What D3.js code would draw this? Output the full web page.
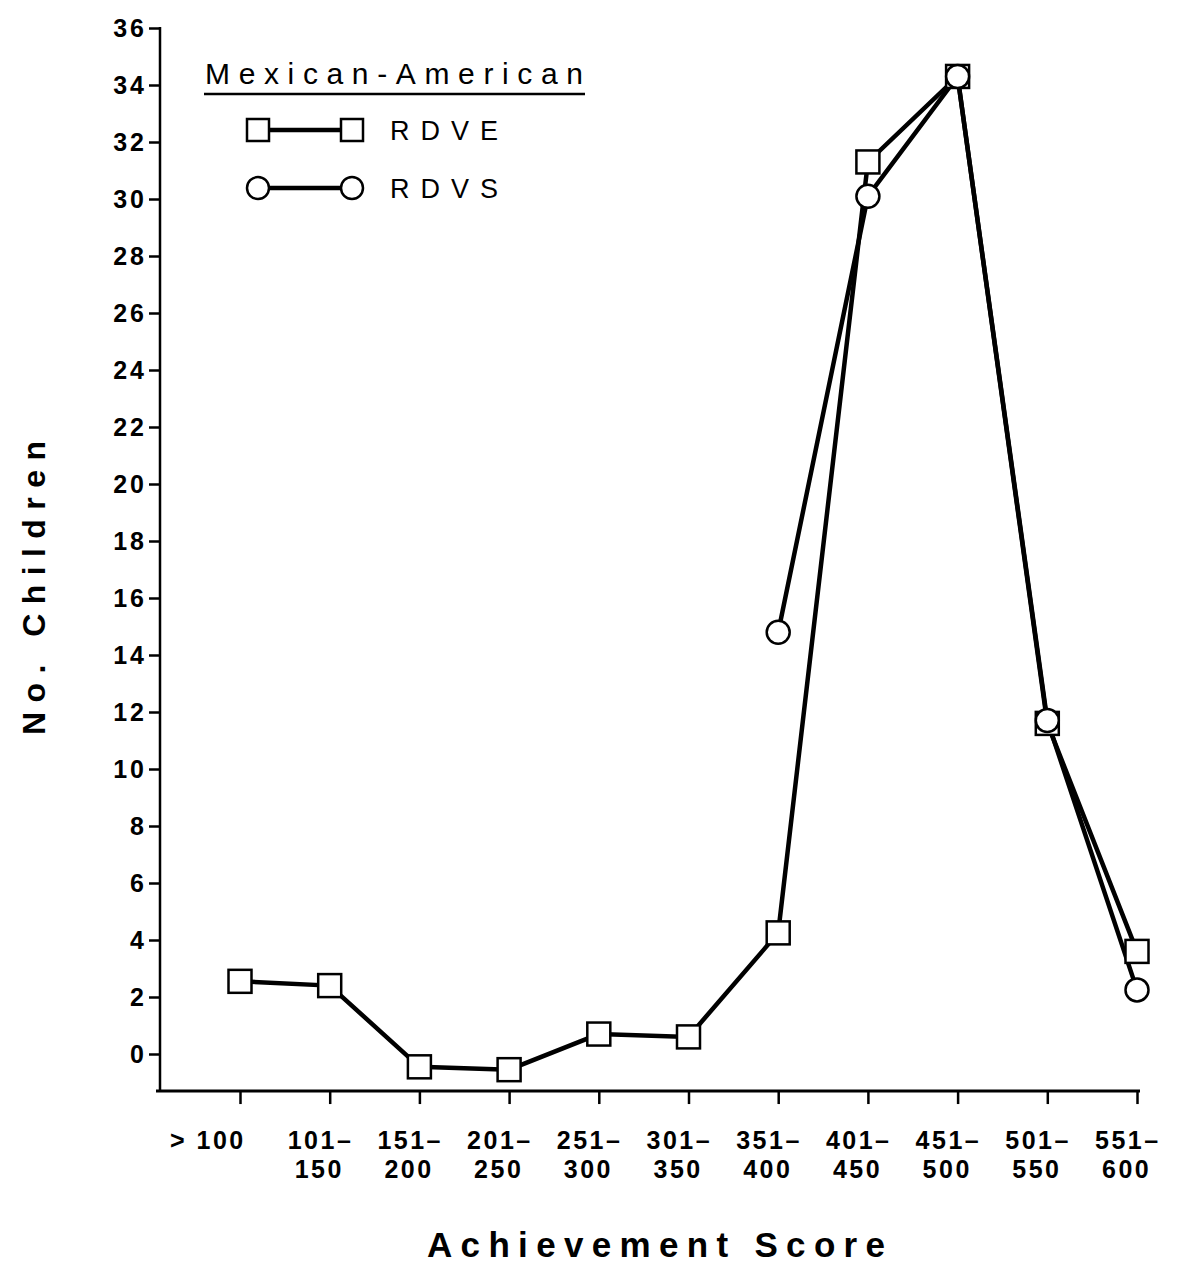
<!DOCTYPE html>
<html>
<head>
<meta charset="utf-8">
<script src="https://cdn.jsdelivr.net/npm/d3@7"></script>
<style>
  html, body { margin: 0; padding: 0; background: #fff; }
  svg { display: block; font-family: "Liberation Sans", Arial, Helvetica, sans-serif; }
</style>
</head>
<body>
<div id="chart"></div>
<script>
// categories (achievement score bands), two-line tick labels
const categories = ['>100', '101-150', '151-200', '201-250', '251-300', '301-350',
  '351-400', '401-450', '451-500', '501-550', '551-600'];
const tickLines = [['> 100'], ['101–', '150'], ['151–', '200'], ['201–', '250'], ['251–', '300'],
  ['301–', '350'], ['351–', '400'], ['401–', '450'], ['451–', '500'], ['501–', '550'], ['551–', '600']];

// number of children per band
const rdveValues = [2.55, 2.4, -0.45, -0.55, 0.7, 0.6, 4.25, 31.3, 34.3, 11.6, 3.6];
const rdvsCategories = ['351-400', '401-450', '451-500', '501-550', '551-600'];
const rdvsValues = [14.8, 30.1, 34.3, 11.7, 2.25];

const yTicks = d3.range(0, 37, 2);

const width = 1189, height = 1271;
const axisBottomValue = -1.3;

const svg = d3.select('#chart').append('svg')
  .attr('width', width)
  .attr('height', height);

const x = d3.scalePoint()
  .domain(categories)
  .range([240, 1137]);

const y = d3.scaleLinear()
  .domain([0, 36])
  .range([1054, 28]);

const axisX = 160;
const axisY = y(axisBottomValue);

// y axis
svg.append('g')
  .attr('transform', `translate(${axisX},0)`)
  .call(d3.axisLeft(y).tickValues(yTicks).tickSize(11).tickPadding(2))
  .call(g => {
    g.select('.domain').remove();
    g.selectAll('.tick line').attr('stroke', '#000').attr('stroke-width', 2.5);
    g.selectAll('.tick text')
      .attr('fill', '#000')
      .attr('font-size', '25px')
      .attr('font-weight', 'bold')
      .attr('letter-spacing', '3px')
      .attr('font-family', '"Liberation Sans", Arial, sans-serif');
  });

svg.append('line')
  .attr('x1', axisX).attr('x2', axisX)
  .attr('y1', y(36) - 1).attr('y2', axisY)
  .attr('stroke', '#000').attr('stroke-width', 2.5);

// x axis
svg.append('line')
  .attr('x1', axisX - 4).attr('x2', x(categories[categories.length - 1]) + 3)
  .attr('y1', axisY).attr('y2', axisY)
  .attr('stroke', '#000').attr('stroke-width', 3);

svg.append('g')
  .attr('transform', `translate(0,${axisY})`)
  .call(d3.axisBottom(x).tickSize(13).tickFormat(''))
  .call(g => {
    g.select('.domain').remove();
    g.selectAll('.tick line').attr('stroke', '#000').attr('stroke-width', 2.5);
  });

const xLabels = svg.append('g');
categories.forEach((c, i) => {
  const startX = i === 0 ? x(c) - 70 : x(c) - 42;
  const t = xLabels.append('text')
    .attr('x', startX)
    .attr('y', axisY + 58)
    .attr('font-size', '25px')
    .attr('font-weight', 'bold')
    .attr('letter-spacing', '2.5px')
    .attr('fill', '#000');
  tickLines[i].forEach((line, j) => {
    t.append('tspan')
      .attr('x', startX + (j === 1 ? 7 : 0))
      .attr('dy', j === 0 ? 0 : 29)
      .text(line);
  });
});

// axis titles
svg.append('text')
  .attr('transform', `translate(45,${588}) rotate(-90)`)
  .attr('text-anchor', 'middle')
  .attr('font-size', '32px')
  .attr('font-weight', 'bold')
  .attr('textLength', 294)
  .attr('lengthAdjust', 'spacing')
  .attr('fill', '#000')
  .text('No. Children');

svg.append('text')
  .attr('x', 656)
  .attr('y', 1257)
  .attr('text-anchor', 'middle')
  .attr('font-size', '35px')
  .attr('font-weight', 'bold')
  .attr('textLength', 458)
  .attr('lengthAdjust', 'spacing')
  .attr('fill', '#000')
  .text('Achievement Score');

// series lines
const line = d3.line()
  .x(d => x(d.cat))
  .y(d => y(d.value));

const rdve = categories.map((c, i) => ({ cat: c, value: rdveValues[i] }));
const rdvs = rdvsCategories.map((c, i) => ({ cat: c, value: rdvsValues[i] }));

svg.append('path')
  .datum(rdve)
  .attr('d', line)
  .attr('fill', 'none')
  .attr('stroke', '#000')
  .attr('stroke-width', 4.5);

svg.append('path')
  .datum(rdvs)
  .attr('d', line)
  .attr('fill', 'none')
  .attr('stroke', '#000')
  .attr('stroke-width', 4.5);

const sq = 23;
svg.append('g').selectAll('rect')
  .data(rdve)
  .join('rect')
  .attr('x', d => x(d.cat) - sq / 2)
  .attr('y', d => y(d.value) - sq / 2)
  .attr('width', sq)
  .attr('height', sq)
  .attr('fill', '#fff')
  .attr('stroke', '#000')
  .attr('stroke-width', 2.5);

svg.append('g').selectAll('circle')
  .data(rdvs)
  .join('circle')
  .attr('cx', d => x(d.cat))
  .attr('cy', d => y(d.value))
  .attr('r', 11.5)
  .attr('fill', '#fff')
  .attr('stroke', '#000')
  .attr('stroke-width', 2.5);

// legend
const legend = svg.append('g');
legend.append('text')
  .attr('x', 205)
  .attr('y', 84)
  .attr('font-size', '30px')
  .attr('textLength', 378)
  .attr('lengthAdjust', 'spacing')
  .attr('fill', '#000')
  .text('Mexican-American');
legend.append('line')
  .attr('x1', 204).attr('x2', 585)
  .attr('y1', 94).attr('y2', 94)
  .attr('stroke', '#000').attr('stroke-width', 2.5);

const legendRows = [
  { label: 'RDVE', shape: 'square', y: 130 },
  { label: 'RDVS', shape: 'circle', y: 188 }
];
legendRows.forEach(r => {
  legend.append('line')
    .attr('x1', 258).attr('x2', 352)
    .attr('y1', r.y).attr('y2', r.y)
    .attr('stroke', '#000').attr('stroke-width', 4.5);
  [258, 352].forEach(cx => {
    if (r.shape === 'square') {
      legend.append('rect')
        .attr('x', cx - 11).attr('y', r.y - 11)
        .attr('width', 22).attr('height', 22)
        .attr('fill', '#fff').attr('stroke', '#000').attr('stroke-width', 2.5);
    } else {
      legend.append('circle')
        .attr('cx', cx).attr('cy', r.y).attr('r', 11)
        .attr('fill', '#fff').attr('stroke', '#000').attr('stroke-width', 2.5);
    }
  });
  legend.append('text')
    .attr('x', 390)
    .attr('y', r.y + 10)
    .attr('font-size', '27px')
    .attr('textLength', 108)
    .attr('lengthAdjust', 'spacing')
    .attr('fill', '#000')
    .text(r.label);
});
</script>
</body>
</html>
